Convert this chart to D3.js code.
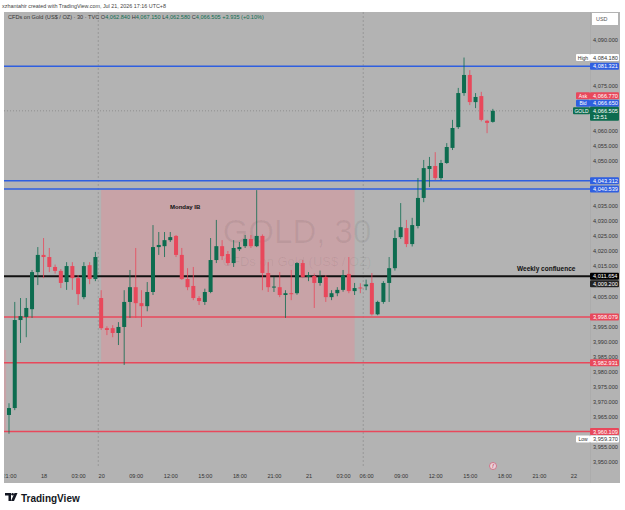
<!DOCTYPE html>
<meta charset="utf-8">

<!-- Load d3.js -->
<script src="https://d3js.org/d3.v7.min.js"></script>

<body>
	<div id="my_dataviz"></div>
</body>

<style>
body { margin: 0; background: #fff; }
text { font-family: "Liberation Sans", Arial, sans-serif; }
</style>

<script>

	// 30 min candles, GOLD (TVC)
	var open  = [3965.6,3967.9,3997.1,3998.1,4000.7,4013.0,4018.7,4018.0,4014.7,4013.4,4009.7,4015.0,4011.0,4004.7,4015.3,4010.7,
	             4004.4,3994.4,3994.4,3992.8,3994.8,4003.1,4008.0,4002.7,4001.7,4006.4,4021.3,4021.6,4023.6,4025.0,4018.7,4010.7,
	             4008.4,4004.4,4003.1,4006.4,4017.0,4021.6,4019.0,4016.0,4020.6,4021.6,4024.0,4021.6,4025.0,4012.7,4008.0,4008.0,
	             4005.4,4006.0,4006.0,4016.0,4011.4,4011.7,4009.4,4011.4,4004.7,4006.0,4007.1,4012.4,4006.7,4007.9,4008.3,4009.4,
	             3999.0,4003.1,4009.4,4014.3,4024.6,4027.6,4022.3,4028.3,4037.6,4047.2,4048.2,4044.2,4049.2,4054.2,4061.1,4072.4,
	             4078.4,4069.4,4071.4,4063.2,4062.84];
	var high  = [3969.5,4003.1,4004.4,4004.4,4013.7,4021.3,4024.3,4021.0,4015.5,4014.0,4016.3,4016.3,4012.0,4016.3,4016.3,4019.7,
	             4007.0,3995.0,3995.4,3996.4,4007.0,4013.7,4021.0,4007.0,4009.7,4028.6,4026.3,4026.3,4026.3,4025.3,4021.0,4014.3,
	             4014.7,4005.0,4007.5,4024.3,4030.3,4023.6,4020.0,4023.6,4023.0,4025.3,4025.3,4040.2,4025.5,4016.3,4011.4,4013.0,
	             4007.0,4013.7,4016.3,4017.0,4013.0,4012.5,4013.5,4012.0,4007.0,4008.0,4013.7,4018.0,4009.4,4009.3,4010.5,4012.7,
	             4003.5,4010.0,4018.0,4026.9,4035.9,4030.3,4031.0,4044.2,4050.2,4051.2,4052.8,4050.2,4055.8,4063.5,4074.1,4084.18,
	             4080.0,4072.4,4072.8,4063.5,4067.15];
	var low   = [3959.37,3967.2,3989.5,3991.4,3997.8,4008.7,4011.0,4013.0,4012.5,4007.7,4007.1,4007.1,4002.1,4004.0,4009.0,4010.0,
	             3993.8,3992.1,3991.4,3988.8,3982.2,3997.8,3997.8,3994.8,4000.0,4005.4,4018.7,4018.0,4023.0,4018.0,4010.4,4007.0,
	             4003.7,4002.1,4002.1,4006.0,4016.0,4017.0,4015.3,4014.7,4020.0,4021.0,4021.0,4021.3,4007.0,4006.4,4006.4,4004.7,
	             3997.8,4003.7,4005.5,4011.0,4010.0,4001.1,4008.5,4003.1,4003.7,4005.0,4006.5,4006.0,4005.4,4006.0,4007.0,3998.6,
	             3998.7,4002.5,4003.1,4013.5,4024.0,4021.3,4021.5,4027.5,4036.2,4041.2,4043.5,4043.5,4048.9,4053.5,4060.5,4071.5,
	             4068.4,4067.4,4063.0,4059.1,4062.58];
	var close = [3967.9,3997.1,3998.4,4001.1,4013.0,4018.7,4018.0,4014.7,4013.4,4009.4,4015.0,4011.0,4005.7,4015.0,4010.7,4018.0,
	             3994.4,3993.8,3992.8,3994.8,4003.1,4008.0,4002.7,4001.7,4006.4,4021.3,4022.0,4023.6,4024.6,4018.7,4010.7,4008.0,
	             4004.4,4003.4,4006.4,4017.0,4021.6,4018.3,4016.0,4021.0,4021.3,4024.0,4021.6,4025.0,4012.7,4008.0,4008.2,4005.4,
	             4006.0,4005.7,4016.0,4011.4,4012.0,4009.4,4011.4,4004.7,4006.0,4007.1,4012.0,4006.7,4007.7,4007.6,4008.9,3999.0,
	             4003.1,4009.4,4014.3,4024.3,4027.9,4022.3,4028.6,4037.6,4047.5,4048.2,4044.2,4049.2,4054.5,4060.8,4072.4,4078.4,
	             4069.4,4071.1,4063.5,4062.5,4066.505];

	// time axis (candle index -> label)
	var timeTickIdx  = [0, 6, 12, 16, 22, 28, 34, 40, 46, 52, 58, 62, 68, 74, 80, 86, 92, 98];
	var timeTickText = ["21:00","18","03:00","20","09:00","12:00","15:00","18:00","21:00","21","03:00","06:00","09:00","12:00","15:00","18:00","21:00","22"];
	var sessionBreaks = [15.5, 61.5];

	// drawn levels
	var blueLevels = [4081.321, 4043.312, 4040.539];
	var blackLevels = [4011.654];
	var redLevels = [3998.079, 3982.931, 3960.109];
	var extraLevel = [4009.200];
	var dayHigh = 4084.180, dayLow = 3959.370;
	var ask = 4066.770, bid = 4066.650, last = 4066.505;

	// monday initial balance box
	var ibStart = 16, ibEnd = 60, ibTop = 4040.4, ibBottom = 3982.9;
	var prevBoxEnd = -0.5, prevBoxTop = 3987.2, prevBoxBottom = 3960.109;

	var W = 625, H = 510;
	var plot = {left: 4, right: 590, top: 12, bottom: 468};

	var svg = d3.select("#my_dataviz")
		.append("svg")
		.attr("width", W)
		.attr("height", H);

	var bg = "#b3b3b3";
	var green = "#0d6c4f", red = "#e8485b", blue = "#2f5fe0";

	// credit line
	svg.append("text").attr("x", 2).attr("y", 8)
		.style("font-size", "5.4px").style("fill", "#444")
		.text("xzhantahir created with TradingView.com, Jul 21, 2026 17:16 UTC+8");

	// panel
	svg.append("rect").attr("x", 4).attr("y", 12).attr("width", 616).attr("height", 471).attr("fill", bg);
	svg.append("line").attr("x1", 590.5).attr("x2", 590.5).attr("y1", 12).attr("y2", 483)
		.attr("stroke", "#a8a8a8").attr("stroke-width", 0.6);

	svg.append("clipPath").attr("id", "clip").append("rect")
		.attr("x", plot.left).attr("y", plot.top)
		.attr("width", plot.right - plot.left).attr("height", plot.bottom - plot.top);

	var x = d3.scaleLinear().domain([-0.868, 100.87]).range([plot.left, plot.right]);
	var y = d3.scaleLinear().domain([3950, 4090]).range([462, 40]);

	var g = svg.append("g").attr("clip-path", "url(#clip)");

	// shaded boxes
	g.append("rect")
		.attr("x", x(ibStart)).attr("width", x(ibEnd) - x(ibStart))
		.attr("y", y(ibTop)).attr("height", y(ibBottom) - y(ibTop))
		.attr("fill", "#c8a3a7");
	g.append("rect")
		.attr("x", plot.left).attr("width", x(prevBoxEnd) - plot.left)
		.attr("y", y(prevBoxTop)).attr("height", y(prevBoxBottom) - y(prevBoxTop))
		.attr("fill", "#c8a3a7");

	// watermark
	var cx = (plot.left + plot.right) / 2;
	g.append("text").attr("x", cx).attr("y", 243).attr("text-anchor", "middle")
		.style("font-size", "33px").style("fill", "rgba(0,0,0,0.06)")
		.text("GOLD, 30");
	g.append("text").attr("x", cx).attr("y", 266).attr("text-anchor", "middle")
		.style("font-size", "13px").style("fill", "rgba(0,0,0,0.06)")
		.text("CFDs on Gold (US$ / OZ)");

	// session breaks
	g.selectAll(".brk").data(sessionBreaks).enter().append("line")
		.attr("x1", function(d) { return x(d); }).attr("x2", function(d) { return x(d); })
		.attr("y1", plot.top).attr("y2", plot.bottom)
		.attr("stroke", "#8c8c8c").attr("stroke-width", 0.7).attr("stroke-dasharray", "2,2");

	// horizontal levels
	function hline(p, color, w) {
		g.append("line").attr("x1", plot.left).attr("x2", plot.right)
			.attr("y1", y(p)).attr("y2", y(p))
			.attr("stroke", color).attr("stroke-width", w);
	}
	blueLevels.forEach(function(p) { hline(p, blue, 1.5); });
	blackLevels.forEach(function(p) { hline(p, "#111", 2); });
	redLevels.forEach(function(p) { hline(p, red, 1.5); });

	// last price dotted line
	g.append("line").attr("x1", plot.left).attr("x2", plot.right)
		.attr("y1", y(last)).attr("y2", y(last))
		.attr("stroke", "#808080").attr("stroke-width", 0.7).attr("stroke-dasharray", "1,2");

	// candles
	var candles = d3.range(open.length).map(function(i) {
		return {i: i, o: open[i], h: high[i], l: low[i], c: close[i]};
	});
	var bw = 4;
	var cg = g.selectAll(".candle").data(candles).enter().append("g");
	cg.append("line")
		.attr("x1", function(d) { return x(d.i); }).attr("x2", function(d) { return x(d.i); })
		.attr("y1", function(d) { return y(d.h); }).attr("y2", function(d) { return y(d.l); })
		.attr("stroke", function(d) { return d.c >= d.o ? green : red; })
		.attr("stroke-width", 0.8);
	cg.append("rect")
		.attr("x", function(d) { return x(d.i) - bw / 2; })
		.attr("width", bw)
		.attr("y", function(d) { return y(Math.max(d.o, d.c)); })
		.attr("height", function(d) { return Math.max(1, Math.abs(y(d.o) - y(d.c))); })
		.attr("fill", function(d) { return d.c >= d.o ? green : red; });

	// annotations
	g.append("text").attr("x", 170).attr("y", 209)
		.style("font-size", "6px").style("font-weight", "bold").style("fill", "#111")
		.text("Monday IB");
	g.append("text").attr("x", 517).attr("y", 271)
		.style("font-size", "6.5px").style("font-weight", "bold").style("fill", "#111")
		.text("Weekly confluence");

	// small indicator icon on time axis edge
	svg.append("circle").attr("cx", 493).attr("cy", 466).attr("r", 3.5)
		.attr("fill", "#e9d3d8").attr("stroke", "#d0607a").attr("stroke-width", 0.8);
	svg.append("text").attr("x", 493).attr("y", 468).attr("text-anchor", "middle")
		.style("font-size", "5px").style("font-style", "italic").style("fill", "#c03050").text("f");

	// symbol header inside chart
	var hdr = svg.append("text").attr("x", 8).attr("y", 19).style("font-size", "5.6px").style("fill", "#333");
	hdr.append("tspan").text("CFDs on Gold (US$ / OZ) · 30 · TVC  ");
	[["O", "4,062.840"], ["H", "4,067.150"], ["L", "4,062.580"], ["C", "4,066.505"]].forEach(function(p) {
		hdr.append("tspan").text(p[0]);
		hdr.append("tspan").style("fill", green).text(p[1] + "  ");
	});
	hdr.append("tspan").style("fill", green).text("+3.935 (+0.10%)");

	// price labels (stacked so they do not overlap)
	var labels = [
		{p: dayHigh, bg: "#fff", fg: "#333", tag: "High", tagBg: "#fff", tagFg: "#333"},
		{p: blueLevels[0], bg: blue, fg: "#fff"},
		{p: blueLevels[1], bg: blue, fg: "#fff"},
		{p: blueLevels[2], bg: blue, fg: "#fff"},
		{p: blackLevels[0], bg: "#000", fg: "#fff"},
		{p: extraLevel[0], bg: "#222", fg: "#fff"},
		{p: redLevels[0], bg: red, fg: "#fff"},
		{p: redLevels[1], bg: red, fg: "#fff"},
		{p: redLevels[2], bg: red, fg: "#fff"},
		{p: dayLow, bg: "#fff", fg: "#333", tag: "Low", tagBg: "#fff", tagFg: "#333"}
	];
	labels.sort(function(a, b) { return b.p - a.p; });
	var prev = -100;
	labels.forEach(function(d) {
		d.y = Math.max(y(d.p), prev + 7.5);
		prev = d.y;
	});
	var ly = y(last);
	labels.push({p: ask, y: ly - 15, bg: red, fg: "#fff", tag: "Ask", tagBg: red, tagFg: "#fff"});
	labels.push({p: bid, y: ly - 7.5, bg: blue, fg: "#fff", tag: "Bid", tagBg: blue, tagFg: "#fff"});

	// price axis, ticks hidden where a label covers them
	var covered = labels.map(function(d) { return d.y; }).concat([ly, ly + 6]);
	var priceTicks = d3.range(3950, 4091, 5).filter(function(t) {
		return d3.min(covered, function(c) { return Math.abs(c - y(t)); }) > 6;
	});
	var yAxis = svg.append("g").attr("transform", "translate(591,0)")
		.call(d3.axisRight(y).tickValues(priceTicks).tickSize(0).tickPadding(2)
			.tickFormat(d3.format(",.3f")));
	yAxis.select(".domain").remove();
	yAxis.selectAll("text").style("font-size", "5.6px").style("fill", "#333")
		.style("font-family", "Liberation Sans, Arial, sans-serif");

	// time axis
	svg.append("clipPath").attr("id", "clipx").append("rect")
		.attr("x", 4.5).attr("y", 0).attr("width", 586).attr("height", 20);
	var xAxis = svg.append("g").attr("transform", "translate(0,470)").attr("clip-path", "url(#clipx)");
	xAxis.call(d3.axisBottom(x).tickValues(timeTickIdx).tickSize(0).tickPadding(4)
		.tickFormat(function(d, i) { return timeTickText[i]; }));
	xAxis.select(".domain").remove();
	xAxis.selectAll("text").style("font-size", "5.6px").style("fill", "#333")
		.style("font-family", "Liberation Sans, Arial, sans-serif");

	var fmt = d3.format(",.3f");
	var lg = svg.selectAll(".plabel").data(labels).enter().append("g");
	lg.append("rect").attr("x", 590).attr("y", function(d) { return d.y - 3.5; })
		.attr("width", 29).attr("height", 7).attr("rx", 1)
		.attr("fill", function(d) { return d.bg; });
	lg.append("text").attr("x", 593).attr("y", function(d) { return d.y + 2; })
		.style("font-size", "5.6px").style("fill", function(d) { return d.fg; })
		.text(function(d) { return fmt(d.p); });
	var tg = lg.filter(function(d) { return d.tag; });
	tg.append("rect").attr("x", 576).attr("y", function(d) { return d.y - 3.5; })
		.attr("width", 14).attr("height", 7).attr("rx", 1)
		.attr("fill", function(d) { return d.tagBg; });
	tg.append("text").attr("x", 583).attr("y", function(d) { return d.y + 2; })
		.attr("text-anchor", "middle")
		.style("font-size", "5px").style("fill", function(d) { return d.tagFg; })
		.text(function(d) { return d.tag; });

	// last price label with countdown
	svg.append("rect").attr("x", 590).attr("y", ly - 4).attr("width", 29).attr("height", 14).attr("rx", 1).attr("fill", green);
	svg.append("text").attr("x", 593).attr("y", ly + 2).style("font-size", "5.6px").style("fill", "#fff").text(fmt(last));
	svg.append("text").attr("x", 593).attr("y", ly + 8).style("font-size", "5.6px").style("fill", "#fff").text("13:51");
	svg.append("rect").attr("x", 573).attr("y", ly - 3.5).attr("width", 17).attr("height", 7).attr("rx", 1).attr("fill", green);
	svg.append("text").attr("x", 581.5).attr("y", ly + 2).attr("text-anchor", "middle")
		.style("font-size", "5px").style("fill", "#fff").text("GOLD");

	// currency box
	svg.append("rect").attr("x", 592).attr("y", 13).attr("width", 26).attr("height", 12).attr("fill", "#fff");
	svg.append("text").attr("x", 596).attr("y", 21).style("font-size", "5.4px").style("fill", "#555").text("USD");

	// TradingView logo
	var logo = svg.append("g").attr("transform", "translate(5,493)");
	logo.append("path").attr("d", "M0,0 H6 V8 H3.5 V2.5 H0 Z").attr("fill", "#131722");
	logo.append("circle").attr("cx", 7.6).attr("cy", 1.3).attr("r", 1.3).attr("fill", "#131722");
	logo.append("path").attr("d", "M9.5,0 H12.5 L9,8 H6 Z").attr("fill", "#131722");
	svg.append("text").attr("x", 21).attr("y", 501.5)
		.style("font-size", "10px").style("font-weight", "600").style("fill", "#131722")
		.text("TradingView");

</script>
